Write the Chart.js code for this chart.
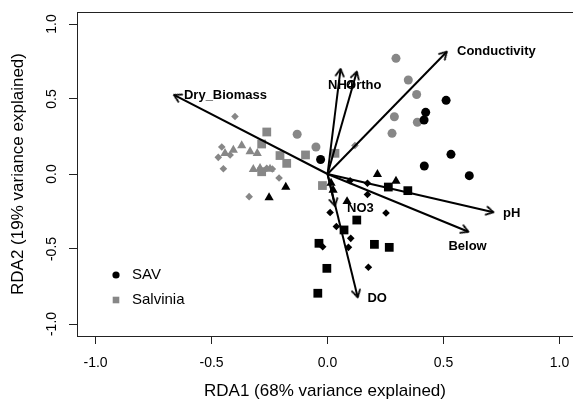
<!DOCTYPE html>
<html>
<head>
<meta charset="utf-8">
<script src="https://cdn.jsdelivr.net/npm/chart.js@4.4.1/dist/chart.umd.min.js"></script>
<style>
  html, body { margin: 0; padding: 0; background: #fff; }
  #wrap { width: 573px; height: 400px; position: relative; }
</style>
</head>
<body>
<div id="wrap"><canvas id="rda"></canvas></div>
<script>
// site scores (RDA1, RDA2)
const savCircles = [[-0.030, 0.097], [0.511, 0.491], [0.423, 0.411], [0.416, 0.360], [0.532, 0.131], [0.417, 0.053], [0.611, -0.011]];
const savDiamonds = [[0.097, -0.045], [0.172, -0.062], [0.172, -0.137], [0.011, -0.257], [0.252, -0.260], [0.038, -0.350], [0.100, -0.429], [0.090, -0.489], [-0.021, -0.485], [0.176, -0.622]];
const savTriangles = [[-0.180, -0.087], [-0.252, -0.157], [0.215, -0.002], [0.295, -0.047], [0.015, -0.060], [0.024, -0.107], [0.084, -0.183]];
const savSquares = [[0.262, -0.087], [0.346, -0.111], [0.126, -0.307], [0.071, -0.373], [-0.037, -0.462], [0.202, -0.469], [0.266, -0.489], [-0.003, -0.629], [-0.042, -0.795]];

const salCircles = [[-0.131, 0.265], [-0.050, 0.180], [0.295, 0.771], [0.348, 0.627], [0.384, 0.530], [0.288, 0.382], [0.387, 0.345], [0.278, 0.271]];
const salDiamonds = [[-0.399, 0.383], [-0.456, 0.180], [-0.449, 0.035], [-0.471, 0.111], [-0.420, 0.127], [-0.262, 0.038], [-0.238, 0.033], [-0.209, -0.027], [-0.338, -0.151], [0.118, 0.190]];
const salTriangles = [[-0.370, 0.190], [-0.406, 0.160], [-0.442, 0.138], [-0.334, 0.149], [-0.303, 0.138], [-0.320, 0.031], [-0.291, 0.038], [-0.248, 0.033]];
const salSquares = [[-0.262, 0.280], [-0.284, 0.200], [-0.205, 0.123], [-0.176, 0.071], [-0.095, 0.127], [-0.284, 0.015], [-0.022, -0.077], [0.032, 0.138]];

// environmental vectors (biplot arrows) and where their names sit
const arrowNames = ['Dry_Biomass', 'NH4', 'Ortho', 'Conductivity', 'pH', 'Below', 'NO3', 'DO'];
const arrowX = [-0.662, 0.056, 0.126, 0.514, 0.715, 0.607, 0.032, 0.130];
const arrowY = [0.527, 0.700, 0.682, 0.815, -0.255, -0.385, -0.213, -0.822];
const labelX = [-0.619, 0.002, 0.080, 0.558, 0.756, 0.521, 0.084, 0.172];
const labelY = [0.527, 0.593, 0.593, 0.815, -0.260, -0.485, -0.229, -0.829];

const legendLabels = ['SAV', 'Salvinia'];
const xTicks = [-1.0, -0.5, 0.0, 0.5, 1.0];
const yTicks = [-1.0, -0.5, 0.0, 0.5, 1.0];

const FONT = "'Liberation Sans', Arial, sans-serif";
const BLACK = '#000000';
const GREY = '#878787';
Chart.defaults.font.family = FONT;
Chart.defaults.color = '#000';

let toXY = (pairs) => pairs.map(p => ({ x: p[0], y: p[1] }));

let pointSet = (label, pairs, color, style, radius) => ({
  label: label,
  data: toXY(pairs),
  pointStyle: style,
  pointRadius: radius,
  backgroundColor: color,
  borderWidth: 0,
  showLine: false,
  order: 1
});

// open "V" arrow head, tip in the middle of the canvas, pointing right
let makeHead = () => {
  const c = document.createElement('canvas');
  c.width = 24; c.height = 24;
  const g = c.getContext('2d');
  const len = 8, ang = Math.PI / 6;
  g.strokeStyle = '#000';
  g.lineWidth = 2;
  g.lineCap = 'round';
  g.lineJoin = 'round';
  g.beginPath();
  g.moveTo(12 - len * Math.cos(ang), 12 - len * Math.sin(ang));
  g.lineTo(12, 12);
  g.lineTo(12 - len * Math.cos(ang), 12 + len * Math.sin(ang));
  g.stroke();
  return c;
};
const head = makeHead();

let arrowSet = (i) => ({
  label: arrowNames[i],
  data: [{ x: 0, y: 0 }, { x: arrowX[i], y: arrowY[i] }],
  showLine: true,
  borderColor: '#000',
  borderWidth: 2,
  backgroundColor: '#000',
  pointStyle: (ctx) => ctx.dataIndex === 1 ? head : 'circle',
  pointRadius: (ctx) => ctx.dataIndex === 1 ? 8 : 0,
  pointRotation: (ctx) => {
    const xs = ctx.chart.scales.x, ys = ctx.chart.scales.y;
    const dx = xs.getPixelForValue(arrowX[i]) - xs.getPixelForValue(0);
    const dy = ys.getPixelForValue(arrowY[i]) - ys.getPixelForValue(0);
    return Math.atan2(dy, dx) * 180 / Math.PI;
  },
  order: 0
});

const datasets = [
  pointSet('SAV', savCircles, BLACK, 'circle', 4.5),
  pointSet('SAV', savDiamonds, BLACK, 'rectRot', 3.8),
  pointSet('SAV', savTriangles, BLACK, 'triangle', 5.3),
  pointSet('SAV', savSquares, BLACK, 'rect', 6.2),
  pointSet('Salvinia', salCircles, GREY, 'circle', 4.5),
  pointSet('Salvinia', salDiamonds, GREY, 'rectRot', 3.8),
  pointSet('Salvinia', salTriangles, GREY, 'triangle', 5.3),
  pointSet('Salvinia', salSquares, GREY, 'rect', 6.2)
];
arrowNames.forEach((n, i) => datasets.push(arrowSet(i)));

const labelsPlugin = {
  id: 'rdaLabels',
  afterDatasetsDraw(chart) {
    const ctx = chart.ctx;
    const xs = chart.scales.x, ys = chart.scales.y;
    const area = chart.chartArea;
    ctx.save();
    ctx.fillStyle = '#000';
    ctx.font = 'bold 13px ' + FONT;
    ctx.textAlign = 'left';
    ctx.textBaseline = 'middle';
    arrowNames.forEach((n, i) => {
      ctx.fillText(n, xs.getPixelForValue(labelX[i]), ys.getPixelForValue(labelY[i]));
    });

    // legend, bottom left inside the box
    ctx.font = '15px ' + FONT;
    const mx = area.left + 39, tx = area.left + 55;
    let y = area.bottom - 61;
    ctx.fillStyle = BLACK;
    ctx.beginPath();
    ctx.arc(mx, y, 3.6, 0, Math.PI * 2);
    ctx.fill();
    ctx.fillText(legendLabels[0], tx, y);
    y += 25;
    ctx.fillStyle = GREY;
    ctx.fillRect(mx - 3.3, y - 3.3, 6.6, 6.6);
    ctx.fillStyle = '#000';
    ctx.fillText(legendLabels[1], tx, y);
    ctx.restore();
  }
};

new Chart(document.getElementById('rda'), {
  type: 'scatter',
  data: { datasets: datasets },
  options: {
    responsive: true,
    maintainAspectRatio: false,
    animation: false,
    layout: { padding: 0, autoPadding: false },
    plugins: {
      legend: { display: false },
      tooltip: { enabled: false }
    },
    scales: {
      x: {
        type: 'linear',
        position: 'bottom',
        min: -1.08,
        max: 1.058,
        afterBuildTicks: (scale) => { scale.ticks = xTicks.map(v => ({ value: v })); },
        afterFit: (scale) => { scale.height = 64; scale.paddingLeft = 0; scale.paddingRight = 0; },
        ticks: {
          autoSkip: false,
          maxRotation: 0,
          padding: 11,
          color: '#000',
          font: { size: 14 },
          callback: (v) => Number(v).toFixed(1)
        },
        grid: { display: true, drawOnChartArea: false, drawTicks: true, tickLength: 8, color: '#222' },
        border: { display: true, color: '#222', width: 1 },
        title: {
          display: true,
          text: 'RDA1 (68% variance explained)',
          color: '#000',
          font: { size: 17, lineHeight: 1 },
          padding: { top: 0, bottom: 0 }
        }
      },
      xTop: {
        type: 'linear',
        position: 'top',
        min: -1.08,
        max: 1.058,
        afterFit: (scale) => { scale.height = 12; scale.paddingLeft = 0; scale.paddingRight = 0; },
        ticks: { display: false },
        grid: { display: false, drawTicks: false },
        border: { display: true, color: '#222', width: 1 }
      },
      y: {
        type: 'linear',
        position: 'left',
        min: -1.08,
        max: 1.08,
        afterBuildTicks: (scale) => { scale.ticks = yTicks.map(v => ({ value: v })); },
        afterFit: (scale) => { scale.width = 77; scale.paddingTop = 0; scale.paddingBottom = 0; },
        ticks: {
          minRotation: 90,
          maxRotation: 90,
          crossAlign: 'center',
          padding: 5,
          color: '#000',
          font: { size: 14 },
          callback: (v) => Number(v).toFixed(1)
        },
        grid: { display: true, drawOnChartArea: false, drawTicks: true, tickLength: 8, color: '#222' },
        border: { display: true, color: '#222', width: 1 },
        title: {
          display: true,
          text: 'RDA2 (19% variance explained)',
          color: '#000',
          font: { size: 17, lineHeight: 1 },
          padding: { top: 10, bottom: 0 }
        }
      }
    }
  },
  plugins: [labelsPlugin]
});
</script>
</body>
</html>
